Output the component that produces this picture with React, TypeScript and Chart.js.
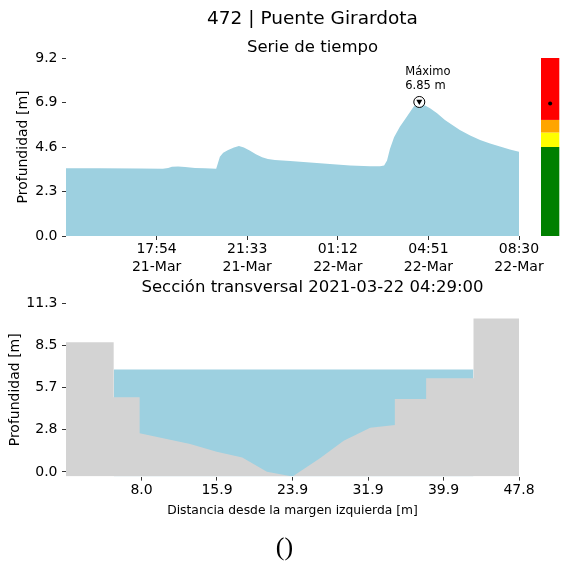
import React, { useEffect, useRef } from "react";
import { Chart, registerables } from "chart.js";
Chart.register(...registerables);

const FONT = "'DejaVu Sans', sans-serif";
const BLUE = "#9dd0e0";
const GRAY = "#d3d3d3";

// ---- Time series (minutes after 21-Mar 14:15) ----
const seriesMinutes = [
  0, 82, 179, 234, 247, 256, 271, 288, 312, 336, 363,
  367, 372, 380, 392, 406, 418, 430, 445, 459, 474, 488, 505,
  542, 590, 638, 687, 735, 759, 769, 776, 783, 793, 807, 820, 832, 841, 854,
  868, 880, 897, 916, 933, 952, 977, 1001, 1025, 1049, 1073, 1095,
];
const seriesDepth = [
  3.5, 3.5, 3.49, 3.47, 3.52, 3.58, 3.59, 3.56, 3.52, 3.5, 3.48,
  3.75, 4.1, 4.3, 4.45, 4.58, 4.65, 4.58, 4.4, 4.22, 4.07, 3.98, 3.93,
  3.88, 3.8, 3.72, 3.65, 3.61, 3.61, 3.64, 3.9, 4.5, 5.1, 5.65, 6.05, 6.42, 6.7, 6.85,
  6.75, 6.6, 6.35, 6.0, 5.75, 5.48, 5.2, 4.96, 4.78, 4.62, 4.47, 4.36,
];
const timeTickMinutes = [219, 438, 657, 876, 1095];
const timeTickLabels = [
  ["17:54", "21-Mar"],
  ["21:33", "21-Mar"],
  ["01:12", "22-Mar"],
  ["04:51", "22-Mar"],
  ["08:30", "22-Mar"],
];
const depthTicks = [0, 2.3, 4.6, 6.9, 9.2];
const depthTickLabels = ["0.0", "2.3", "4.6", "6.9", "9.2"];
const alertLevels = [0, 4.6, 5.35, 6.0, 9.2];
const alertColors = ["#008000", "#ffff00", "#ffa500", "#ff0000"];
const maxLabel = ["Máximo", "6.85 m"];

// ---- Cross section ----
const sectionX = [0, 5.03, 5.03, 7.77, 7.77, 13.1, 15.9, 18.6, 21.2, 23.9, 26.8, 29.3, 32.1, 34.7, 34.7, 38.0, 38.0, 43.0, 43.0, 47.8];
const sectionGround = [8.67, 8.67, 4.99, 4.99, 2.59, 1.87, 1.36, 0.96, 0.02, -0.31, 0.92, 2.09, 2.96, 3.14, 4.88, 4.88, 6.26, 6.26, 10.27, 10.27];
const waterLevel = 6.85;
const waterX = [5.03, 43.0];
const sectionXTicks = [7.97, 15.93, 23.9, 31.87, 39.83, 47.8];
const sectionXTickLabels = ["8.0", "15.9", "23.9", "31.9", "39.9", "47.8"];
const sectionYTicks = [0, 2.825, 5.65, 8.475, 11.3];
const sectionYTickLabels = ["0.0", "2.8", "5.7", "8.5", "11.3"];

const titlePlugin = (id: string, lines: { text: string; size: number; y: number }[]) => ({
  id,
  afterDraw(chart: any) {
    const { ctx, chartArea } = chart;
    const cx = (chartArea.left + chartArea.right + 40) / 2;
    ctx.save();
    ctx.fillStyle = "#000";
    ctx.textAlign = "center";
    ctx.textBaseline = "middle";
    for (const l of lines) {
      ctx.font = `${l.size}px ${FONT}`;
      ctx.fillText(l.text, cx, l.y);
    }
    ctx.restore();
  },
});

const colorBarPlugin = {
  id: "colorbar",
  afterDraw(chart: any) {
    const { ctx, chartArea, scales } = chart;
    const y = scales.y;
    const x0 = chartArea.right + 22;
    const w = 18.3;
    ctx.save();
    for (let i = 0; i < alertColors.length; i++) {
      const top = y.getPixelForValue(alertLevels[i + 1]);
      const bot = y.getPixelForValue(alertLevels[i]);
      ctx.fillStyle = alertColors[i];
      ctx.fillRect(x0, top, w, bot - top);
    }
    const maxD = Math.max(...seriesDepth);
    ctx.fillStyle = "#000";
    ctx.beginPath();
    ctx.arc(x0 + w / 2, y.getPixelForValue(maxD), 2, 0, Math.PI * 2);
    ctx.fill();
    ctx.restore();
  },
};

const maxPlugin = {
  id: "maxmark",
  afterDraw(chart: any) {
    const { ctx, scales } = chart;
    let mi = 0;
    seriesDepth.forEach((d, i) => { if (d > seriesDepth[mi]) mi = i; });
    const px = scales.x.getPixelForValue(seriesMinutes[mi]);
    const py = scales.y.getPixelForValue(seriesDepth[mi]) - 1.5;
    ctx.save();
    ctx.beginPath();
    ctx.arc(px, py, 5.5, 0, Math.PI * 2);
    ctx.fillStyle = "#fff";
    ctx.fill();
    ctx.lineWidth = 1;
    ctx.strokeStyle = "#000";
    ctx.stroke();
    ctx.beginPath();
    ctx.moveTo(px - 3, py - 2.3);
    ctx.lineTo(px + 3, py - 2.3);
    ctx.lineTo(px, py + 3);
    ctx.closePath();
    ctx.fillStyle = "#000";
    ctx.fill();
    ctx.font = `11.5px ${FONT}`;
    ctx.textAlign = "left";
    ctx.textBaseline = "middle";
    ctx.fillText(maxLabel[0], px - 14, py - 30);
    ctx.fillText(maxLabel[1], px - 14, py - 15.5);
    ctx.restore();
  },
};

const tickGrid = { display: true, drawOnChartArea: false, drawTicks: true, tickLength: 4, color: "#333", lineWidth: 1 };

export default function App() {
  const topRef = useRef<HTMLCanvasElement>(null);
  const botRef = useRef<HTMLCanvasElement>(null);

  useEffect(() => {
    const top = new Chart(topRef.current as HTMLCanvasElement, {
      type: "line",
      data: {
        datasets: [
          {
            data: seriesMinutes.map((t, i) => ({ x: t, y: seriesDepth[i] })),
            fill: "origin",
            backgroundColor: BLUE,
            borderColor: "rgba(0,0,0,0)",
            borderWidth: 0,
            pointRadius: 0,
            tension: 0,
          },
        ],
      },
      options: {
        responsive: false,
        animation: false,
        layout: { padding: { left: 0, right: 44, top: 58, bottom: 0 } },
        plugins: { legend: { display: false }, tooltip: { enabled: false }, title: { display: false } },
        scales: {
          x: {
            type: "linear",
            min: 0,
            max: 1095,
            border: { display: false },
            grid: tickGrid,
            afterBuildTicks: (s: any) => { s.ticks = timeTickMinutes.map((v) => ({ value: v })); },
            afterFit: (s: any) => { s.height = 44; },
            ticks: {
              autoSkip: false,
              maxRotation: 0,
              padding: 0.5,
              color: "#000",
              font: { family: FONT, size: 14, lineHeight: 1.26 },
              callback: (_v: any, i: number) => timeTickLabels[i],
            },
          },
          y: {
            min: 0,
            max: 9.2,
            border: { display: false },
            grid: tickGrid,
            afterBuildTicks: (s: any) => { s.ticks = depthTicks.map((v) => ({ value: v })); },
            afterFit: (s: any) => { s.width = 66; },
            title: { display: true, text: "Profundidad [m]", color: "#000", font: { family: FONT, size: 14 }, padding: { top: 15.3, bottom: 0 } },
            ticks: {
              padding: 4.5,
              color: "#000",
              font: { family: FONT, size: 14 },
              callback: (_v: any, i: number) => depthTickLabels[i],
            },
          },
        },
      },
      plugins: [
        titlePlugin("titlesTop", [
          { text: "472 | Puente Girardota", size: 18.5, y: 19.2 },
          { text: "Serie de tiempo", size: 16.5, y: 47.5 },
        ]),
        colorBarPlugin,
        maxPlugin,
      ],
    } as any);

    const bot = new Chart(botRef.current as HTMLCanvasElement, {
      type: "line",
      data: {
        datasets: [
          {
            data: sectionX.map((x, i) => ({ x, y: sectionGround[i] })),
            fill: "start",
            backgroundColor: GRAY,
            borderColor: "rgba(0,0,0,0)",
            borderWidth: 0,
            pointRadius: 0,
            tension: 0,
          },
          {
            data: waterX.map((x) => ({ x, y: waterLevel })),
            fill: "start",
            backgroundColor: BLUE,
            borderColor: "rgba(0,0,0,0)",
            borderWidth: 0,
            pointRadius: 0,
            tension: 0,
          },
        ],
      },
      options: {
        responsive: false,
        animation: false,
        layout: { padding: { left: 0, right: 44, top: 33, bottom: 0 } },
        plugins: { legend: { display: false }, tooltip: { enabled: false }, title: { display: false } },
        scales: {
          x: {
            type: "linear",
            min: 0,
            max: 47.8,
            border: { display: false },
            grid: tickGrid,
            afterBuildTicks: (s: any) => { s.ticks = sectionXTicks.map((v) => ({ value: v })); },
            afterFit: (s: any) => { s.height = 43.4; },
            title: { display: true, text: "Distancia desde la margen izquierda [m]", color: "#000", font: { family: FONT, size: 12.3 }, padding: { top: 0, bottom: 2 } },
            ticks: {
              autoSkip: false,
              maxRotation: 0,
              padding: 1,
              color: "#000",
              font: { family: FONT, size: 14 },
              callback: (_v: any, i: number) => sectionXTickLabels[i],
            },
          },
          y: {
            min: -0.31,
            max: 11.3,
            border: { display: false },
            grid: tickGrid,
            afterBuildTicks: (s: any) => { s.ticks = sectionYTicks.map((v) => ({ value: v })); },
            afterFit: (s: any) => { s.width = 66; },
            title: { display: true, text: "Profundidad [m]", color: "#000", font: { family: FONT, size: 14 }, padding: { top: 6.6, bottom: 0 } },
            ticks: {
              padding: 4.5,
              color: "#000",
              font: { family: FONT, size: 14 },
              callback: (_v: any, i: number) => sectionYTickLabels[i],
            },
          },
        },
      },
      plugins: [
        titlePlugin("titlesBot", [{ text: "Sección transversal 2021-03-22 04:29:00", size: 16.5, y: 17.5 }]),
      ],
    } as any);

    return () => {
      top.destroy();
      bot.destroy();
    };
  }, []);

  return (
    <div style={{ position: "absolute", left: 0, top: 0, width: 563, height: 563, background: "#fff", overflow: "hidden" }}>
      <canvas ref={topRef} width={563} height={280} style={{ position: "absolute", left: 0, top: 0, width: 563, height: 280 }} />
      <canvas ref={botRef} width={563} height={250} style={{ position: "absolute", left: 0, top: 270, width: 563, height: 250 }} />
      <div
        style={{
          position: "absolute",
          left: 0,
          top: 532,
          width: 569,
          textAlign: "center",
          fontFamily: "'Liberation Serif', serif",
          fontSize: 26,
          lineHeight: "normal",
          color: "#000",
        }}
      >
        ()
      </div>
    </div>
  );
}
